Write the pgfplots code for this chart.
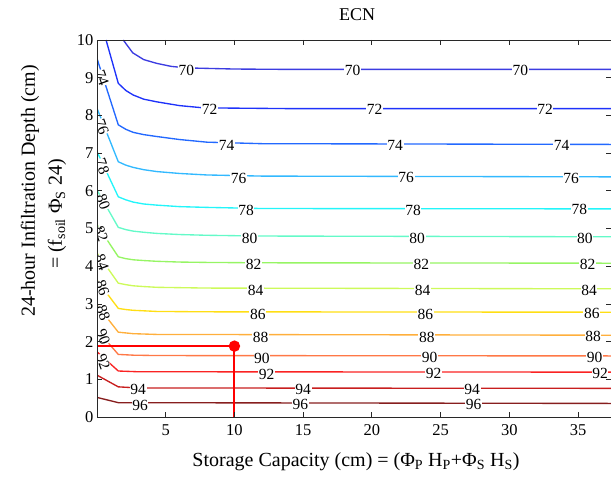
\documentclass[border=0pt]{standalone}
\usepackage{fontspec}
\setmainfont{Liberation Serif}
\usepackage{pgfplots}
\pgfplotsset{compat=1.18}
\definecolor{c70}{RGB}{60,60,225}
\definecolor{c72}{RGB}{30,50,250}
\definecolor{c74}{RGB}{35,105,255}
\definecolor{c76}{RGB}{50,185,255}
\definecolor{c78}{RGB}{35,245,250}
\definecolor{c80}{RGB}{100,250,200}
\definecolor{c82}{RGB}{150,245,100}
\definecolor{c84}{RGB}{205,250,90}
\definecolor{c86}{RGB}{255,222,20}
\definecolor{c88}{RGB}{255,175,60}
\definecolor{c90}{RGB}{255,120,70}
\definecolor{c92}{RGB}{250,35,35}
\definecolor{c94}{RGB}{200,30,30}
\definecolor{c96}{RGB}{135,30,30}
\definecolor{axgray}{RGB}{40,40,40}
\newcommand\cfont{\fontsize{15.5}{15.5}\selectfont}
\newcommand\lab[3]{\node[fill=white,inner sep=0.6pt,font=\cfont] at (axis cs:#1,#2) {#3};}
\newcommand\llab[3]{\node[fill=white,inner sep=0.3pt,font=\cfont,rotate=-70] at (axis cs:#1,#2) {#3};}
\begin{document}
\begin{tikzpicture}[x=1pt,y=1pt]
\begin{axis}[
  at={(97pt,66pt)}, anchor=south west, scale only axis,
  width=514pt, height=377pt,
  xmin=0, xmax=37.4, ymin=0, ymax=10,
  xtick={5,10,...,35}, ytick={0,1,...,10},
  tick align=inside, major tick length=5pt,
  axis line style={color=axgray, line width=0.8pt},
  tick style={color=axgray, line width=0.8pt},
  ticklabel style={font=\fontsize{16.5}{16.5}\selectfont, text=black},
  xticklabel style={yshift=-4pt},
  /pgf/number format/assume math mode=true,
  axis on top,
  every axis plot/.append style={line width=1.35pt},
]
\addplot[c70] coordinates {(1.91,10)(2.6,9.66)(3.4,9.48)(4.35,9.38)(5.4,9.3)(6.5,9.26)(10,9.23)(14,9.22)(37.4,9.22)};
\addplot[c72] coordinates {(0.66,10)(1.55,8.85)(2.1,8.66)(2.64,8.54)(3.4,8.43)(4.35,8.36)(6,8.26)(7.74,8.2)(14,8.18)(37.4,8.18)};
\addplot[c74] coordinates {(0,9.51)(1.55,7.75)(2.1,7.63)(2.64,7.55)(3.4,7.49)(4.35,7.44)(6,7.36)(8,7.29)(12,7.25)(37.4,7.23)};
\addplot[c76] coordinates {(0,8.19)(1.55,6.77)(2.1,6.68)(2.64,6.62)(3.4,6.56)(4.35,6.51)(6,6.46)(8,6.42)(12,6.39)(37.4,6.37)};
\addplot[c78] coordinates {(0,7.04)(1.55,5.84)(2.1,5.76)(2.64,5.70)(3.4,5.65)(4.35,5.62)(6,5.58)(8,5.56)(12,5.53)(37.4,5.52)};
\addplot[c80] coordinates {(0,6.02)(1.55,5.03)(2.1,4.97)(2.64,4.93)(3.4,4.90)(4.35,4.87)(6,4.84)(8,4.82)(12,4.80)(37.4,4.78)};
\addplot[c82] coordinates {(0,5.1)(1.55,4.25)(2.1,4.2)(2.64,4.17)(3.4,4.15)(4.35,4.13)(6,4.11)(8,4.10)(12,4.09)(37.4,4.08)};
\addplot[c84] coordinates {(0,4.35)(1.55,3.55)(2.1,3.51)(2.64,3.48)(3.4,3.46)(4.35,3.44)(8,3.42)(37.4,3.40)};
\addplot[c86] coordinates {(0,3.63)(1.55,2.88)(2.1,2.85)(2.64,2.83)(4.35,2.80)(8,2.79)(37.4,2.78)};
\addplot[c88] coordinates {(0,2.97)(1.55,2.25)(2.64,2.21)(4.35,2.19)(37.4,2.17)};
\addplot[c90] coordinates {(0,2.31)(1.55,1.66)(2.64,1.64)(4.35,1.63)(37.4,1.62)};
\addplot[c92] coordinates {(0,1.73)(1.55,1.22)(3,1.20)(37.4,1.19)};
\addplot[c94] coordinates {(0,1.11)(1.55,0.80)(3,0.77)(37.4,0.76)};
\addplot[c96] coordinates {(0,0.52)(1.55,0.38)(37.4,0.36)};
% contour labels
\lab{6.5}{9.2}{70}\lab{18.6}{9.2}{70}\lab{30.8}{9.2}{70}
\lab{8.2}{8.15}{72}\lab{20.2}{8.16}{72}\lab{32.6}{8.16}{72}
\lab{9.44}{7.2}{74}\lab{21.7}{7.21}{74}\lab{33.8}{7.21}{74}
\lab{10.3}{6.33}{76}\lab{22.5}{6.35}{76}\lab{34.5}{6.33}{76}
\lab{10.85}{5.48}{78}\lab{23.0}{5.48}{78}\lab{35.1}{5.5}{78}
\lab{11.1}{4.74}{80}\lab{23.3}{4.74}{80}\lab{35.5}{4.74}{80}
\lab{11.4}{4.04}{82}\lab{23.6}{4.04}{82}\lab{35.7}{4.04}{82}
\lab{11.55}{3.37}{84}\lab{23.7}{3.36}{84}\lab{35.8}{3.36}{84}
\lab{11.7}{2.72}{86}\lab{23.9}{2.72}{86}\lab{36.0}{2.76}{86}
\lab{11.9}{2.12}{88}\lab{24.0}{2.12}{88}\lab{36.1}{2.15}{88}
\lab{12.0}{1.56}{90}\lab{24.2}{1.57}{90}\lab{36.2}{1.58}{90}
\lab{12.35}{1.14}{92}\lab{24.5}{1.15}{92}\lab{36.6}{1.16}{92}
\lab{3.0}{0.72}{94}\lab{15.0}{0.73}{94}\lab{27.3}{0.73}{94}
\lab{3.13}{0.31}{96}\lab{14.8}{0.32}{96}\lab{27.4}{0.32}{96}
\llab{0.35}{9.0}{74}\llab{0.35}{7.7}{76}\llab{0.4}{6.65}{78}\llab{0.45}{5.7}{80}
\llab{0.3}{4.85}{82}\llab{0.35}{4.1}{84}\llab{0.4}{3.42}{86}\llab{0.45}{2.76}{88}
\llab{0.45}{2.13}{90}\llab{0.45}{1.47}{92}
% red marker
\addplot[red, line width=2pt] coordinates {(0,1.88)(10,1.88)(10,0)};
\addplot[only marks, mark=*, mark size=5pt, color=red, fill=red] coordinates {(10,1.88)};
\end{axis}
\node[font=\fontsize{18}{18}\selectfont] at (357,468) {ECN};
\node[anchor=base, font=\fontsize{20}{20}\selectfont] at (356,16.3) {Storage Capacity (cm) = (Φ\textsubscript{P} H\textsubscript{P}+Φ\textsubscript{S} H\textsubscript{S})};
\node[rotate=90, font=\fontsize{20}{20}\selectfont] at (30,292) {24-hour Infiltration Depth (cm)};
\node[rotate=90, font=\fontsize{20}{20}\selectfont] at (57,269) {= (f\textsubscript{soil} Φ\textsubscript{S} 24)};
\pgfresetboundingbox
\useasboundingbox (0,0) rectangle (611,483);
\end{tikzpicture}
\end{document}
